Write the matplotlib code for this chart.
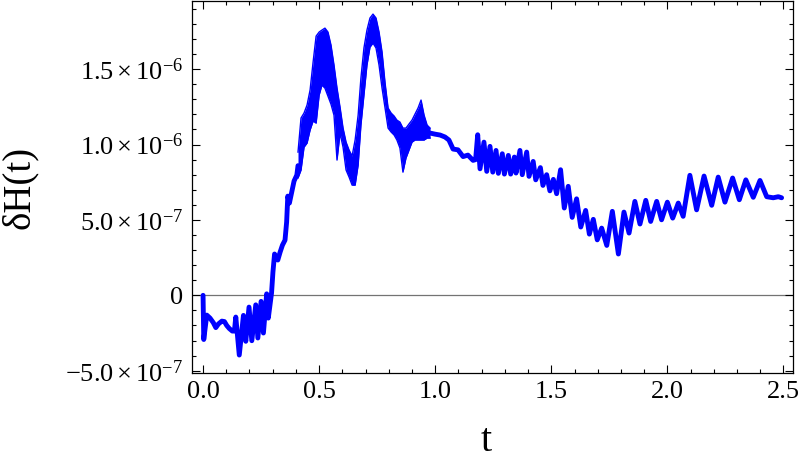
import matplotlib
matplotlib.use("Agg")
import matplotlib.pyplot as plt
import numpy as np
from matplotlib.ticker import FixedLocator, FixedFormatter, MultipleLocator

plt.rcParams["font.family"] = ["Liberation Serif", "DejaVu Serif"]
plt.rcParams["mathtext.fontset"] = "custom"
plt.rcParams["mathtext.rm"] = "Liberation Serif"
plt.rcParams["mathtext.it"] = "Liberation Serif:italic"

# delta H(t), values in units of 1e-7
# start: drop, small oscillations below zero, then the rise
t_start = [0.000, 0.003, 0.016, 0.030, 0.044, 0.055, 0.066, 0.081, 0.092, 0.102,
           0.113, 0.126, 0.135, 0.141, 0.156, 0.174, 0.184, 0.198, 0.210, 0.227,
           0.236, 0.250, 0.260, 0.274, 0.281, 0.295, 0.301, 0.308, 0.322, 0.332,
           0.342, 0.353, 0.360, 0.365, 0.372, 0.382, 0.392, 0.404, 0.409]
dh_start = [0.0, -2.93, -1.31, -1.51, -1.81, -2.14, -1.90, -1.71, -1.74, -2.00,
            -2.20, -2.37, -2.37, -1.44, -3.96, -1.33, -3.05, -0.78, -3.01, -0.63,
            -2.83, -0.40, -2.50, 0.10, -1.51, 0.15, 1.54, 2.74, 2.34, 2.87,
            3.33, 3.66, 4.86, 6.58, 6.12, 6.85, 7.58, 7.98, 8.6]

# fast-oscillating part (two humps): upper / lower envelope of the band
t_band = [0.409, 0.422, 0.435, 0.448, 0.461, 0.474, 0.487, 0.500, 0.512, 0.525,
          0.538, 0.551, 0.564, 0.577, 0.590, 0.603, 0.616, 0.629, 0.642, 0.655,
          0.668, 0.680, 0.693, 0.706, 0.719, 0.732, 0.745, 0.758, 0.771, 0.784,
          0.797, 0.810, 0.823, 0.835, 0.848, 0.861, 0.874, 0.887, 0.900, 0.913,
          0.926, 0.939, 0.952, 0.965, 0.978]
dh_band_hi = [9.50, 11.76, 12.09, 12.62, 13.61, 15.47, 17.19, 17.46, 17.59, 17.72,
              17.46, 16.60, 15.27, 13.74, 12.48, 11.09, 10.16, 9.63, 9.24, 10.30,
              11.95, 14.41, 16.40, 17.59, 18.39, 18.65, 18.39, 17.46, 16.13, 14.08,
              12.42, 12.09, 11.89, 11.62, 11.49, 11.09, 11.09, 11.36, 11.62, 12.02,
              12.42, 12.95, 11.95, 11.29, 11.09]
dh_band_lo = [7.78, 8.31, 9.83, 10.10, 10.96, 11.56, 11.42, 13.28, 13.94, 13.74,
              13.21, 12.68, 11.95, 8.97, 10.76, 9.83, 8.31, 7.84, 7.31, 7.31,
              8.64, 11.29, 13.28, 15.27, 16.46, 16.73, 16.40, 15.27, 13.74, 12.42,
              11.09, 10.83, 10.63, 10.30, 9.77, 8.17, 9.10, 9.63, 10.16, 10.30,
              10.30, 10.30, 10.30, 10.43, 10.43]

# slow decay with resolved oscillations
t_tail = [0.978, 0.999, 1.021, 1.042, 1.059, 1.077, 1.098, 1.120, 1.141, 1.163,
          1.174, 1.183, 1.193, 1.210, 1.222, 1.236, 1.248, 1.262, 1.272, 1.289,
          1.298, 1.315, 1.325, 1.341, 1.348, 1.365, 1.375, 1.394, 1.404, 1.422,
          1.433, 1.453, 1.464, 1.480, 1.494, 1.509, 1.523, 1.540, 1.556, 1.573,
          1.590, 1.609, 1.627, 1.648, 1.664, 1.681, 1.698, 1.717, 1.739, 1.763,
          1.789, 1.813, 1.835, 1.860, 1.882, 1.907, 1.928, 1.954, 1.975, 2.000,
          2.023, 2.047, 2.068, 2.097, 2.126, 2.158, 2.191, 2.219, 2.248, 2.281,
          2.310, 2.338, 2.370, 2.399, 2.428, 2.456, 2.478, 2.492]
dh_tail = [10.76, 10.69, 10.63, 10.50, 10.30, 9.70, 9.65, 9.20, 9.30, 8.95,
           9.00, 10.65, 8.39, 10.16, 8.22, 9.88, 8.17, 9.61, 8.09, 9.39,
           8.04, 9.28, 8.04, 9.17, 8.11, 9.61, 8.00, 9.50, 7.89, 8.88,
           7.66, 8.47, 7.29, 8.00, 6.93, 7.69, 6.74, 8.33, 5.79, 7.23,
           5.17, 6.40, 4.53, 5.63, 4.06, 5.04, 3.68, 4.46, 3.31, 5.57,
           2.74, 5.52, 4.13, 6.23, 4.73, 6.30, 4.90, 6.23, 5.01, 6.18,
           5.12, 6.12, 5.24, 7.96, 5.67, 7.91, 5.97, 7.84, 6.18, 7.78,
           6.34, 7.66, 6.50, 7.62, 6.54, 6.47, 6.54, 6.47]

scale = 1e-7
blue = (0, 0, 1)

fig = plt.figure(figsize=(8, 4.69), dpi=100)
ax = fig.add_axes([0.2396, 0.2047, 0.7516, 0.7932])

ax.axhline(0, color="0.45", lw=0.9, zorder=1)

line_kw = dict(color=blue, lw=3.5, solid_capstyle="round", solid_joinstyle="round", zorder=3)
ax.plot(t_start, np.array(dh_start) * scale, **line_kw)
ax.fill_between(t_band, np.array(dh_band_lo) * scale, np.array(dh_band_hi) * scale,
                color=blue, lw=0, zorder=3)
ax.plot(t_band, np.array(dh_band_hi) * scale, color=blue, lw=1.0, zorder=3)
ax.plot(t_band, np.array(dh_band_lo) * scale, color=blue, lw=1.0, zorder=3)
ax.plot(t_tail, np.array(dh_tail) * scale, **line_kw)

ax.set_xlim(-0.049, 2.541)
ax.set_ylim(-5.15e-7, 1.952e-6)

ax.xaxis.set_major_locator(FixedLocator([0.0, 0.5, 1.0, 1.5, 2.0, 2.5]))
ax.xaxis.set_major_formatter(FixedFormatter(["0.0", "0.5", "1.0", "1.5", "2.0", "2.5"]))
ax.xaxis.set_minor_locator(MultipleLocator(0.1))

yt = [-5e-7, 0, 5e-7, 1e-6, 1.5e-6]
ylabels = [r"$-5.0\times10^{-7}$", "0", r"$5.0\times10^{-7}$",
           r"$1.0\times10^{-6}$", r"$1.5\times10^{-6}$"]
ax.yaxis.set_major_locator(FixedLocator(yt))
ax.yaxis.set_major_formatter(FixedFormatter(ylabels))
ax.yaxis.set_minor_locator(MultipleLocator(1e-7))

ax.tick_params(which="both", direction="in", top=True, right=True, width=0.8,
               labelsize=19, pad=6)
ax.tick_params(which="major", length=5.5)
ax.tick_params(which="minor", length=3)
for s in ax.spines.values():
    s.set_linewidth(0.9)

ax.set_xlabel("t", fontsize=29)
ax.set_ylabel("δH(t)", fontsize=28)
ax.xaxis.set_label_coords(0.49, -0.135)
ax.yaxis.set_label_coords(-0.255, 0.5)

fig.savefig("out.png", dpi=100)
